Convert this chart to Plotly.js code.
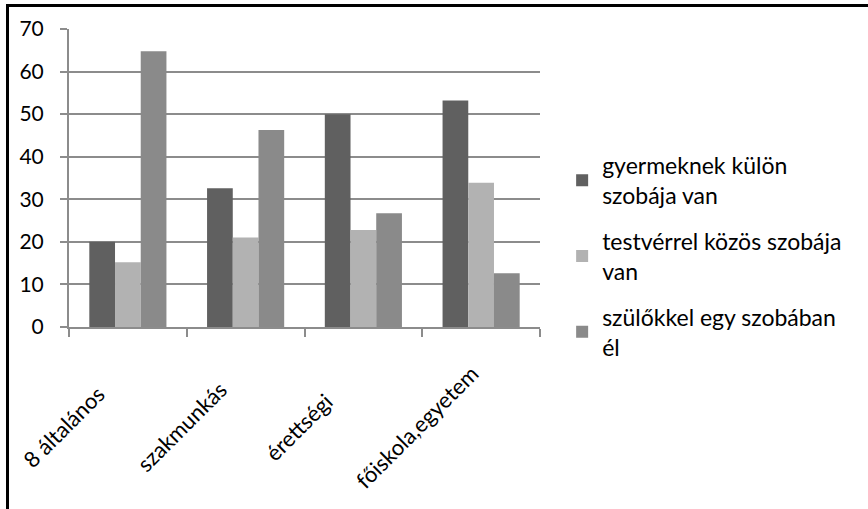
<!DOCTYPE html>
<html>
<head>
<meta charset="utf-8">
<script src="https://cdn.plot.ly/plotly-3.0.1.min.js"></script>
<style>
  html, body { margin: 0; padding: 0; background: #fff; }
  #chart { width: 868px; height: 509px; position: absolute; left: 0; top: 0; }
  #frame { position: absolute; left: 6px; top: 4px; width: 900px; height: 600px;
           border-top: 3px solid #000; border-left: 3px solid #000; pointer-events: none; box-sizing: border-box; }
</style>
</head>
<body>
<div id="chart"></div>
<div id="frame"></div>
<script>
const categories = ["8 általános", "szakmunkás", "érettségi", "főiskola,egyetem"];
const seriesNames = ["gyermeknek külön<br>szobája van", "testvérrel közös szobája<br>van", "szülőkkel egy szobában<br>él"];
const separateRoom = [20, 32.6, 50, 53.2];
const sharedWithSibling = [15.2, 21, 22.8, 33.9];
const withParents = [64.8, 46.3, 26.7, 12.6];
const seriesColors = ["#606060", "#b2b2b2", "#8a8a8a"];
const yTicks = [0, 10, 20, 30, 40, 50, 60, 70];

const FONT = "Lato, 'Open Sans', sans-serif";
const seriesValues = [separateRoom, sharedWithSibling, withParents];

const traces = seriesValues.map((vals, i) => ({
  type: "bar",
  name: seriesNames[i],
  x: categories,
  y: vals,
  marker: { color: seriesColors[i], line: { width: 0 } },
  legendgroup: "g" + i,
  hoverinfo: "x+y"
}));

const annotations = categories.map(c => ({
  x: c, xref: "x", y: -0.335, yref: "paper",
  text: c, showarrow: false, textangle: -45,
  xanchor: "center", yanchor: "middle", xshift: -64,
  font: { family: FONT, size: 22, color: "#000" }
}));

const layout = {
  width: 868, height: 509,
  margin: { l: 69, r: 328, t: 29, b: 182 },
  paper_bgcolor: "#fff", plot_bgcolor: "#fff",
  barmode: "group", bargap: 0.345, bargroupgap: 0,
  font: { family: FONT, size: 21, color: "#000" },
  xaxis: {
    type: "category",
    range: [-0.5, categories.length - 0.5],
    autorange: false,
    showticklabels: false,
    showline: true, linecolor: "#8c8c8c", linewidth: 2,
    ticks: "outside", ticklen: 8, tickcolor: "#8c8c8c", tickwidth: 2,
    tickson: "boundaries",
    showgrid: false, zeroline: false, fixedrange: true
  },
  yaxis: {
    range: [0, 70],
    tickvals: yTicks, ticktext: yTicks.map(String),
    showline: true, linecolor: "#8c8c8c", linewidth: 2,
    ticks: "outside", ticklen: 7, tickcolor: "#8c8c8c", tickwidth: 2,
    ticklabelstandoff: 12,
    showgrid: true, gridcolor: "#8c8c8c", gridwidth: 2,
    zeroline: false, fixedrange: true,
    tickfont: { family: FONT, size: 21, color: "#000" }
  },
  showlegend: true,
  legend: {
    x: 1.047, xref: "paper", xanchor: "left", y: 0.615, yanchor: "top",
    traceorder: "grouped", tracegroupgap: 13,
    font: { family: FONT, size: 23, color: "#000" },
    bgcolor: "rgba(0,0,0,0)"
  },
  annotations: annotations
};

Plotly.newPlot("chart", traces, layout, { displayModeBar: false, staticPlot: true });
</script>
</body>
</html>
